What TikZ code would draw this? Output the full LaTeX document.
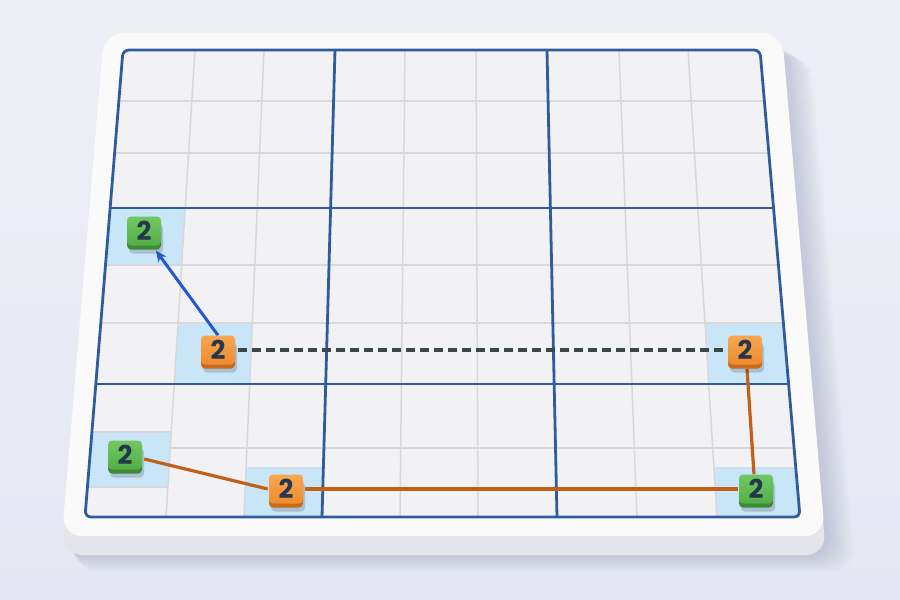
\documentclass[tikz,border=0pt]{standalone}
\usepackage{fontspec}
\newfontfamily\numfont{Poppins}
\usetikzlibrary{calc,shadows,arrows.meta}
\definecolor{bgc}{HTML}{E5E8F2}
\definecolor{bgtop}{HTML}{EEEFF6}
\definecolor{boardface}{HTML}{FAFAFB}
\definecolor{boardside}{HTML}{E4E5EB}
\definecolor{gridbg}{HTML}{F2F2F4}
\definecolor{thinc}{HTML}{D8D8DC}
\definecolor{bluel}{HTML}{2E5C9C}
\definecolor{hl}{HTML}{C9E5F8}
\definecolor{otop}{HTML}{F8A852}
\definecolor{obot}{HTML}{EE8A2E}
\definecolor{oside}{HTML}{C9691E}
\definecolor{gtop}{HTML}{72C862}
\definecolor{gbot}{HTML}{52AE48}
\definecolor{gside}{HTML}{3E8A36}
\definecolor{numc}{HTML}{25364D}
\definecolor{arrowb}{HTML}{2458D0}
\definecolor{dashc}{HTML}{3C4646}
\definecolor{conno}{HTML}{C2601A}
\definecolor{shadc}{HTML}{9AA0BC}
\pgfdeclarelayer{boardlayer}
\pgfdeclarelayer{connlayer}
\pgfsetlayers{boardlayer,connlayer,main}
\tikzset{
  thinline/.style={draw=thinc, line width=1.5pt},
  thickline/.style={draw=bluel, line width=2.8pt},
  hlcell/.style={fill=hl},
  tile/.style={minimum width=34pt, minimum height=29pt, rounded corners=4pt,
    inner sep=0pt, font=\numfont\bfseries\fontsize{26}{26}\selectfont, text=numc},
  otile/.style={tile, top color=otop, bottom color=obot,
    general shadow={fill=black, opacity=.16, shadow yshift=-8pt, shadow xshift=2pt},
    general shadow={fill=oside, shadow yshift=-4pt}},
  gtile/.style={tile, top color=gtop, bottom color=gbot,
    general shadow={fill=black, opacity=.16, shadow yshift=-8pt, shadow xshift=2pt},
    general shadow={fill=gside, shadow yshift=-4pt}},
  conn/.style={draw=conno, line width=3.2pt},
  dashconn/.style={draw=dashc, line width=3.8pt, dash pattern=on 9pt off 5pt},
  arrowconn/.style={draw=arrowb, line width=3pt, -{Stealth[length=11pt,width=10pt]}}
}
\begin{document}
\begin{tikzpicture}[x=1pt,y=-1pt]
\useasboundingbox (0,0) rectangle (900,600);
\begin{pgfonlayer}{boardlayer}
% background
\shade[top color=bgtop, bottom color=bgc] (0,0) rectangle (900,600);
% board shadow
\foreach \k in {1,...,12}
  \fill[shadc, opacity=0.045, rounded corners=22]
    ({104+\k*1.6},{40+\k*1.4}) -- ({782+\k*2.4},{40+\k*1.4}) -- ({826+\k*2.4},{554+\k*1.4}) -- ({62+\k*1},{554+\k*1.4}) -- cycle;
% board side
\fill[boardside, rounded corners=20] (104,48) -- (782,48) -- (826,555) -- (62,555) -- cycle;
% board face
\fill[boardface, rounded corners=20] (104,33) -- (782,33) -- (825,536) -- (62,536) -- cycle;
% grid column coordinates
\coordinate (T0) at (123,50); \coordinate (B0) at (85,517);
\coordinate (T1) at (195,50); \coordinate (B1) at (166,517);
\coordinate (T2) at (264,50); \coordinate (B2) at (244,517);
\coordinate (T3) at (335,50); \coordinate (B3) at (322,517);
\coordinate (T4) at (405,50); \coordinate (B4) at (400,517);
\coordinate (T5) at (476,50); \coordinate (B5) at (478,517);
\coordinate (T6) at (547,50); \coordinate (B6) at (557,517);
\coordinate (T7) at (619,50); \coordinate (B7) at (637,517);
\coordinate (T8) at (688,50); \coordinate (B8) at (717,517);
\coordinate (T9) at (760,50); \coordinate (B9) at (800,517);
\foreach \i in {0,...,9}
  \foreach \y in {50,101,153,208,265,323,384,432,448,468,487,517}
    \coordinate (g-\i-\y) at ($(T\i)!{(\y-50)/467}!(B\i)$);
% grid background
\fill[gridbg, rounded corners=6] (g-0-50) -- (g-9-50) -- (g-9-517) -- (g-0-517) -- cycle;
% highlighted cells
\fill[hlcell] (g-0-208) -- (g-1-208) -- (g-1-265) -- (g-0-265) -- cycle;
\fill[hlcell] (g-1-323) -- (g-2-323) -- (g-2-384) -- (g-1-384) -- cycle;
\fill[hlcell] (g-8-323) -- (g-9-323) -- (g-9-384) -- (g-8-384) -- cycle;
\fill[hlcell] (g-0-432) -- (g-1-432) -- (g-1-487) -- (g-0-487) -- cycle;
\fill[hlcell] (g-2-468) -- (g-3-468) -- (g-3-517) -- (g-2-517) -- cycle;
\fill[hlcell] (g-8-468) -- (g-9-468) -- (g-9-517) -- (g-8-517) -- cycle;
% thin lines
\foreach \i in {1,2,4,5,7,8}
  \draw[thinline] (g-\i-50) -- (g-\i-517);
\foreach \y in {101,153,265,323}
  \draw[thinline] (g-0-\y) -- (g-9-\y);
\draw[thinline] (g-0-432) -- (g-1-432);
\draw[thinline] (g-0-487) -- (g-1-487);
\draw[thinline] (g-1-448) -- (g-9-448);
\draw[draw=hl!70!thinc, line width=1.2pt] (g-2-468) -- (g-3-468);
\draw[draw=hl!70!thinc, line width=1.2pt] (g-8-468) -- (g-9-468);
% thick lines
\foreach \i in {3,6}
  \draw[thickline] (g-\i-50) -- (g-\i-517);
\foreach \y in {208,384}
  \draw[thickline] (g-0-\y) -- (g-9-\y);
\draw[thickline, rounded corners=6] (g-0-50) -- (g-9-50) -- (g-9-517) -- (g-0-517) -- cycle;
\end{pgfonlayer}
% tiles
\node[gtile] (G1) at (144,231) {2};
\node[otile] (O1) at (218,350) {2};
\node[otile] (O2) at (745,350) {2};
\node[gtile] (G2) at (125,455) {2};
\node[otile] (O3) at (286,489) {2};
\node[gtile] (G3) at (756,489) {2};
% connectors
\begin{pgfonlayer}{connlayer}
\draw[arrowconn] (O1.north) -- ([xshift=12pt,yshift=-5pt]G1.south);
\draw[dashconn] ([xshift=3pt]O1.east) -- ([xshift=-4pt]O2.west);
\draw[conn] ([xshift=2pt,yshift=-4pt]G2.east) -- ([xshift=-1pt]O3.west);
\draw[conn] ([xshift=2pt]O3.east) -- ([xshift=-1pt]G3.west);
\draw[conn] ([xshift=2pt,yshift=-4pt]O2.south) -- ([xshift=-2pt]G3.north);
\end{pgfonlayer}
\end{tikzpicture}
\end{document}
